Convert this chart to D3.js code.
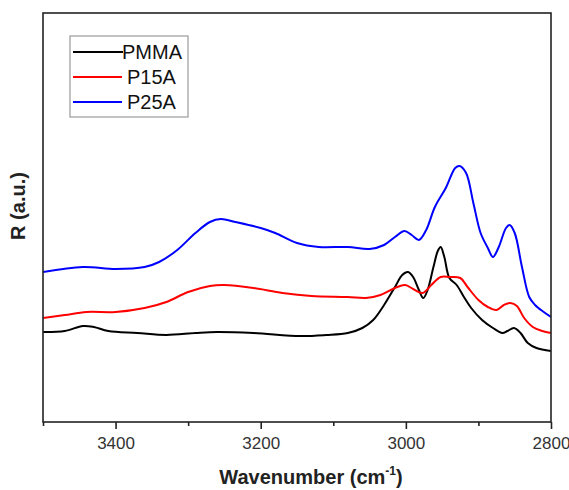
<!DOCTYPE html>
<html><head><meta charset="utf-8">
<script src="https://cdn.jsdelivr.net/npm/d3@7"></script>
<style>body{margin:0;background:#fff}svg{display:block}text{font-family:Arial,"Liberation Sans",sans-serif}</style>
</head><body><svg id="c" width="569" height="490"></svg>
<script>
const seriesNames = ["PMMA","P15A","P25A"];
const seriesColors = ["#000000","#ff0000","#0000ff"];
const majorTicks = [3400,3200,3000,2800];
const minorTicks = [3500,3300,3100,2900];

const pmmaX = [3500,3470,3445,3430,3410,3370,3330,3290,3260,3210,3145,3110,3080,3060,3045,3030,3015,3005,2997,2990,2982,2976,2970,2962,2956,2952,2947,2940,2930,2920,2910,2895,2880,2867,2860,2851,2842,2832,2820,2800];
const pmmaY = [0.90,0.91,0.96,0.95,0.91,0.89,0.87,0.89,0.90,0.89,0.86,0.87,0.89,0.94,1.02,1.17,1.35,1.47,1.50,1.45,1.32,1.24,1.32,1.55,1.71,1.75,1.65,1.44,1.37,1.25,1.14,1.02,0.94,0.89,0.91,0.94,0.89,0.79,0.74,0.71];

const p15X = [3500,3470,3440,3400,3360,3330,3300,3270,3250,3210,3170,3130,3080,3055,3035,3015,3001,2990,2977,2965,2952,2940,2925,2915,2900,2887,2875,2865,2856,2847,2837,2825,2812,2800];
const p15Y = [1.04,1.07,1.10,1.10,1.14,1.20,1.30,1.36,1.37,1.34,1.29,1.26,1.25,1.24,1.27,1.34,1.37,1.33,1.29,1.37,1.45,1.45,1.44,1.35,1.22,1.15,1.12,1.17,1.19,1.16,1.04,0.95,0.91,0.89];

const p25X = [3500,3445,3400,3360,3340,3315,3290,3270,3255,3235,3200,3180,3150,3120,3080,3050,3030,3015,3002,2992,2982,2972,2960,2945,2932,2926,2917,2907,2897,2887,2880,2872,2862,2857,2850,2840,2830,2822,2810,2800];
const p25Y = [1.50,1.55,1.53,1.55,1.60,1.72,1.89,2.00,2.03,2.00,1.94,1.89,1.79,1.75,1.75,1.73,1.77,1.85,1.91,1.87,1.82,1.92,2.15,2.34,2.54,2.56,2.49,2.19,1.89,1.74,1.65,1.75,1.94,1.97,1.89,1.55,1.25,1.17,1.10,1.05];

const seriesData = [
  pmmaX.map((x,i)=>({x, y:pmmaY[i]})),
  p15X.map((x,i)=>({x, y:p15Y[i]})),
  p25X.map((x,i)=>({x, y:p25Y[i]}))
];

const L=43, R=551, T=13, B=422;
const svg = d3.select("#c");
const x = d3.scaleLinear().domain([3500,2800]).range([L,R]);
const y = d3.scaleLinear().domain([0,4.09]).range([B,T]);

const clip = svg.append("clipPath").attr("id","pc").append("rect").attr("x",L).attr("y",T).attr("width",R-L).attr("height",B-T);

const line = d3.line().x(d=>x(d.x)).y(d=>y(d.y)).curve(d3.curveCatmullRom.alpha(0.5));
const g = svg.append("g").attr("clip-path","url(#pc)");
seriesData.forEach((d,i)=>{
  g.append("path").datum(d).attr("d",line).attr("fill","none")
   .attr("stroke",seriesColors[i]).attr("stroke-width",2).attr("stroke-linejoin","round");
});

// frame
svg.append("rect").attr("x",L).attr("y",T).attr("width",R-L).attr("height",B-T)
  .attr("fill","none").attr("stroke","#222").attr("stroke-width",1.6);

// bottom axis
const ax = svg.append("g").attr("transform",`translate(0,${B})`)
  .call(d3.axisBottom(x).tickValues(majorTicks).tickSize(7).tickFormat(d3.format("d")));
ax.select(".domain").remove();
ax.selectAll(".tick line").attr("stroke","#222").attr("stroke-width",1.6);
ax.selectAll(".tick text").attr("font-size",17).attr("fill","#333").attr("dy",null).attr("y",27)
  .attr("font-family",'Arial,"Liberation Sans",sans-serif');
const axm = svg.append("g").attr("transform",`translate(0,${B})`)
  .call(d3.axisBottom(x).tickValues(minorTicks).tickSize(4).tickFormat(""));
axm.select(".domain").remove();
axm.selectAll(".tick line").attr("stroke","#222").attr("stroke-width",1.6);

// axis titles
const xt = svg.append("text").attr("x",311).attr("y",484).attr("text-anchor","middle")
  .attr("font-size",20).attr("font-weight","bold").attr("fill","#222");
xt.append("tspan").text("Wavenumber (cm");
xt.append("tspan").text("-1").attr("font-size",12).attr("dy",-9);
xt.append("tspan").text(")").attr("dy",9);

svg.append("text").attr("transform","translate(25,206) rotate(-90)").attr("text-anchor","middle")
  .attr("font-size",20).attr("font-weight","bold").attr("fill","#222").text("R (a.u.)");

// legend
const lg = svg.append("g");
lg.append("rect").attr("x",70).attr("y",36).attr("width",118).attr("height",81)
  .attr("fill","#fff").attr("stroke","#999").attr("stroke-width",1.2);
const ly = [52,77,102];
const lx = [122,127,127];
seriesNames.forEach((n,i)=>{
  lg.append("line").attr("x1",73).attr("x2",i===0?123:122).attr("y1",ly[i]).attr("y2",ly[i])
    .attr("stroke",seriesColors[i]).attr("stroke-width",2);
  lg.append("text").attr("x",lx[i]).attr("y",ly[i]+7).attr("font-size",20).attr("fill","#111").text(n);
});
</script></body></html>
